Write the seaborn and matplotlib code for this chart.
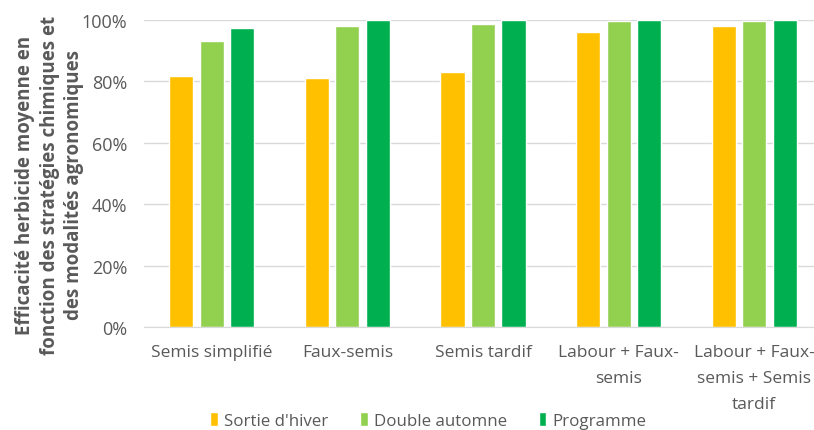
import seaborn as sns
from matplotlib import pyplot as plt
from matplotlib.ticker import PercentFormatter
import pandas as pd

categories = ['Semis simplifié', 'Faux-semis', 'Semis tardif',
              'Labour + Faux-\nsemis', 'Labour + Faux-\nsemis + Semis\ntardif']
strategies = ["Sortie d'hiver", 'Double automne', 'Programme']
sortie_hiver = [0.818, 0.811, 0.831, 0.961, 0.980]
double_automne = [0.932, 0.980, 0.987, 0.998, 0.997]
programme = [0.974, 1.000, 1.000, 1.000, 1.000]
colors = ['#FFC000', '#92D050', '#00B050']

rows = []
for name, vals in zip(strategies, [sortie_hiver, double_automne, programme]):
    for cat, v in zip(categories, vals):
        rows.append((cat, name, v))
df = pd.DataFrame(rows, columns=['modalite', 'strategie', 'efficacite'])

sns.set_style('white')
plt.rcParams['font.family'] = ['Open Sans', 'DejaVu Sans']

fig = plt.figure(figsize=(8.14, 4.31), dpi=100)
ax = fig.add_axes([144 / 814, 103 / 431, 678 / 814, 307 / 431])
sns.barplot(data=df, x='modalite', y='efficacite', hue='strategie',
            palette=colors, width=0.675, gap=0.21, ax=ax, saturation=1)

ax.set_ylim(0, 1)
ax.set_xlim(-0.5, 4.5)
ax.set_yticks([0, 0.2, 0.4, 0.6, 0.8, 1.0])
ax.yaxis.set_major_formatter(PercentFormatter(1.0, decimals=0))
ax.grid(axis='y', color='#d9d9d9', linewidth=1)
ax.set_axisbelow(True)
for s in ['top', 'right', 'left']:
    ax.spines[s].set_visible(False)
ax.spines['bottom'].set_color('#d9d9d9')
ax.tick_params(axis='both', length=0, colors='#595959')
ax.tick_params(axis='y', pad=12, labelsize=13)
ax.tick_params(axis='x', pad=12, labelsize=12.5)
ax.set_xticks(range(len(categories)), labels=categories)
for lbl in ax.get_xticklabels():
    lbl.set_linespacing(1.85)
ax.set_xlabel('')
ax.set_ylabel('Efficacité herbicide moyenne en\nfonction des stratégies chimiques et\ndes modalités agronomiques',
              fontsize=13.5, fontweight='bold', color='#595959',
              linespacing=1.3)
ax.yaxis.set_label_coords(-0.088, 0.466)

handles, labels = ax.get_legend_handles_labels()
ax.legend_.remove()
fig.legend(handles, labels, loc='lower center', ncol=3, frameon=False,
           bbox_to_anchor=(0.526, -0.033), fontsize=12.2, handlelength=0.45,
           handleheight=0.85, handletextpad=0.35, columnspacing=1.9,
           labelcolor='#595959')

fig.savefig('out.png', dpi=100)
